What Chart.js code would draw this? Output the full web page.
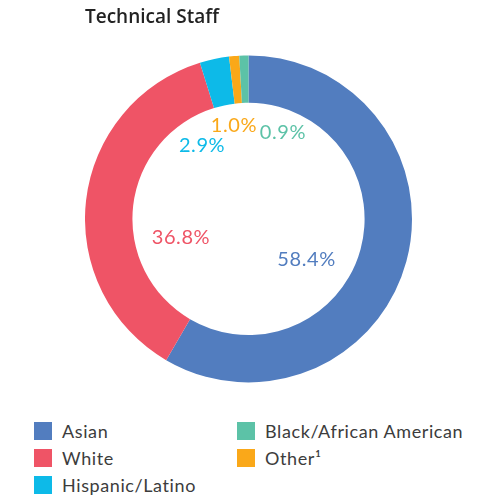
<!DOCTYPE html>
<html>
<head>
<meta charset="utf-8">
<script src="https://cdn.jsdelivr.net/npm/chart.js@4"></script>
<style>
    html, body { margin: 0; padding: 0; background: #fff; }
    body { width: 500px; height: 500px; position: relative; overflow: hidden; font-family: Lato, sans-serif; }
    #wrap { position: absolute; left: 85px; top: 0; width: 327px; height: 383px; }
    .legend-col { position: absolute; top: 417px; }
    .legend-item { display: flex; align-items: center; height: 27px; font-size: 18px; letter-spacing: 0.6px; color: #3c3c3c; white-space: nowrap; }
    .legend-box { width: 18px; height: 18px; margin-right: 10px; flex: none; }
</style>
</head>
<body>
<div id="wrap"><canvas id="grafico"></canvas></div>
<div class="legend-col" id="col1" style="left:34px"></div>
<div class="legend-col" id="col2" style="left:237px"></div>

<script>
// ===========================
// Dados
// ===========================
const categorias = ["Asian", "White", "Hispanic/Latino", "Other\u00b9", "Black/African American"];
const valores = [58.4, 36.8, 2.9, 1.0, 0.9];
const rotulos = ["58.4%", "36.8%", "2.9%", "1.0%", "0.9%"];
const cores = ["#527dbf", "#ef5466", "#0dbae8", "#faa819", "#5cc2a7"];

// posição dos rótulos (fração do raio externo, a partir do centro)
const posRotulos = [[0.355, 0.251], [-0.413, 0.113], [-0.284, -0.446], [-0.089, -0.572], [0.211, -0.529]];

// ordem da legenda: coluna 1 e coluna 2
const legendaCol1 = [0, 1, 2];
const legendaCol2 = [4, 3];

// ===========================
// Rótulos dentro do anel
// ===========================
const pluginRotulos = {
    id: 'rotulos',
    afterDatasetsDraw(chart) {
        const ctx = chart.ctx;
        const arcs = chart.getDatasetMeta(0).data;
        ctx.save();
        ctx.font = '20px Lato, sans-serif';
        ctx.letterSpacing = '0.6px';
        ctx.textAlign = 'center';
        ctx.textBaseline = 'middle';
        arcs.forEach((arc, i) => {
            const r = arc.outerRadius;
            ctx.fillStyle = cores[i];
            ctx.fillText(rotulos[i], arc.x + posRotulos[i][0] * r, arc.y + posRotulos[i][1] * r);
        });
        ctx.restore();
    }
};

// ===========================
// Gráfico
// ===========================
new Chart(document.getElementById('grafico'), {
    type: 'doughnut',
    data: {
        labels: categorias,
        datasets: [{
            data: valores,
            backgroundColor: cores,
            borderWidth: 0
        }]
    },
    options: {
        responsive: true,
        maintainAspectRatio: false,
        animation: false,
        cutout: '71%',
        layout: { padding: 0 },
        plugins: {
            legend: { display: false },
            tooltip: { enabled: false },
            title: {
                display: true,
                text: 'Technical Staff',
                align: 'start',
                color: '#222',
                font: { family: 'Open Sans', size: 19, weight: '600', lineHeight: 1.2 },
                padding: { top: 6, bottom: 26 }
            }
        }
    },
    plugins: [pluginRotulos]
});

// ===========================
// Legenda
// ===========================
function montarLegenda(id, indices) {
    const col = document.getElementById(id);
    indices.forEach(i => {
        const item = document.createElement('div');
        item.className = 'legend-item';
        const box = document.createElement('span');
        box.className = 'legend-box';
        box.style.background = cores[i];
        const txt = document.createElement('span');
        txt.textContent = categorias[i];
        item.appendChild(box);
        item.appendChild(txt);
        col.appendChild(item);
    });
}

montarLegenda('col1', legendaCol1);
montarLegenda('col2', legendaCol2);
</script>
</body>
</html>
